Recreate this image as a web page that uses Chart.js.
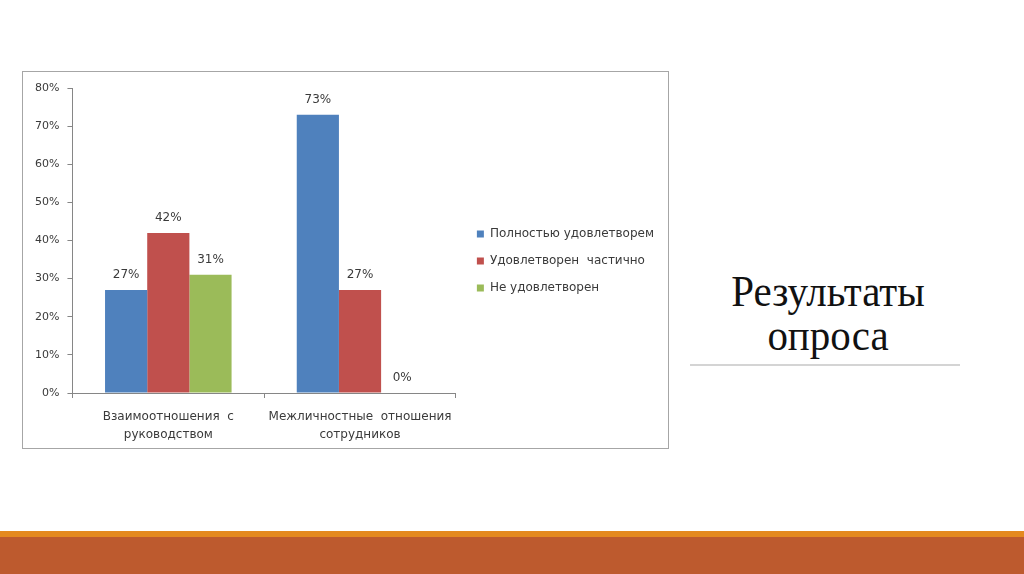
<!DOCTYPE html>
<html>
<head>
<meta charset="utf-8">
<script src="https://cdn.jsdelivr.net/npm/chart.js@4/dist/chart.umd.min.js"></script>
<style>
    body { margin: 0; width: 1024px; height: 574px; background: #fff; position: relative; overflow: hidden; }
    #frame { position: absolute; left: 22px; top: 71px; width: 645px; height: 376px; border: 1px solid #a6a6a6; }
    #wrap { position: absolute; left: 23px; top: 72px; width: 660px; height: 390px; }
    #title { position: absolute; left: 678px; top: 269px; width: 300px; text-align: center;
        font-family: "Liberation Serif", serif; font-size: 45px; line-height: 44px; color: #111;
        transform: scaleX(0.91); }
    #rule { position: absolute; left: 690px; top: 364px; width: 270px; height: 2px; background: #d4d4d4; }
    #stripe { position: absolute; left: 0; top: 531px; width: 1024px; height: 6px; background: #e4891f; }
    #band { position: absolute; left: 0; top: 537px; width: 1024px; height: 37px; background: #bd5a2e; }
</style>
</head>
<body>
<div id="frame"></div>
<div id="wrap"><canvas id="survey"></canvas></div>
<div id="title">Результаты<br>опроса</div>
<div id="rule"></div>
<div id="stripe"></div>
<div id="band"></div>
<script>
const categories = [['Взаимоотношения  с', 'руководством'], ['Межличностные  отношения', 'сотрудников']];
const seriesNames = ['Полностью удовлетворем', 'Удовлетворен  частично', 'Не удовлетворен'];
const fullySatisfied = [27, 73];
const partlySatisfied = [42, 27];
const notSatisfied = [31, 0];
const yTicks = [0, 10, 20, 30, 40, 50, 60, 70, 80];

const colors = ['#4f81bd', '#c0504d', '#9bbb59'];
const axisColor = '#868686';
const textColor = '#3a3a3a';
const font = { family: 'DejaVu Sans', size: 12 };

// value labels over the bars
const barLabels = {
    id: 'barLabels',
    afterDatasetsDraw(chart) {
        const ctx = chart.ctx;
        ctx.save();
        ctx.font = '12px "DejaVu Sans"';
        ctx.fillStyle = textColor;
        ctx.textAlign = 'center';
        ctx.textBaseline = 'middle';
        chart.data.datasets.forEach((ds, i) => {
            chart.getDatasetMeta(i).data.forEach((bar, j) => {
                ctx.fillText(ds.data[j] + '%', bar.x, bar.y - 15);
            });
        });
        ctx.restore();
    }
};

new Chart(document.getElementById('survey'), {
    type: 'bar',
    data: {
        labels: categories,
        datasets: [fullySatisfied, partlySatisfied, notSatisfied].map((data, i) => ({
            label: seriesNames[i],
            data,
            backgroundColor: colors[i],
            borderWidth: 0,
            categoryPercentage: 0.66,
            barPercentage: 1
        }))
    },
    options: {
        responsive: true,
        maintainAspectRatio: false,
        animation: false,
        layout: { padding: { left: 4, top: 16, bottom: 8, right: 19 } },
        plugins: {
            legend: {
                position: 'right',
                fullSize: false,
                maxWidth: 300,
                // empty title only pushes the items down to the middle of the frame
                title: { display: true, text: '', padding: 20.5, font: { size: 0 } },
                labels: { boxWidth: 7, boxHeight: 7, padding: 15, color: textColor, font }
            },
            tooltip: { enabled: false }
        },
        scales: {
            x: {
                grid: { drawOnChartArea: false, tickLength: 5, color: axisColor },
                border: { color: axisColor },
                ticks: { color: textColor, font: { ...font, lineHeight: 1.5 }, padding: 10, maxRotation: 0, autoSkip: false }
            },
            y: {
                min: 0,
                max: 80,
                afterBuildTicks: s => { s.ticks = yTicks.map(v => ({ value: v })); },
                grid: { drawOnChartArea: false, tickLength: 5, color: axisColor },
                border: { color: axisColor },
                ticks: { color: textColor, font: { ...font, size: 11 }, padding: 8, callback: v => v + '%' }
            },
            yR: {
                position: 'right',
                grid: { display: false },
                border: { display: false },
                ticks: { display: false },
                afterFit: s => { s.width = 6; }
            }
        }
    },
    plugins: [barLabels]
});
</script>
</body>
</html>
